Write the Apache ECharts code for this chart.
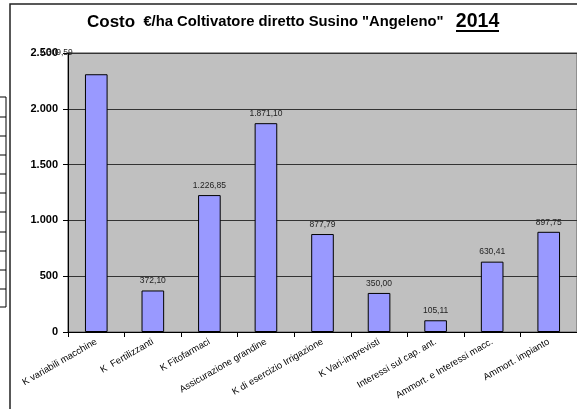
<!DOCTYPE html>
<html>
<head>
<meta charset="utf-8">
<script src="https://cdn.jsdelivr.net/npm/echarts@6/dist/echarts.min.js"></script>
<style>
  html, body { margin: 0; padding: 0; background: #fff; }
  #chart { width: 577px; height: 409px; }
</style>
</head>
<body>
<div id="chart"></div>
<script>
const categories = [
  'K variabili macchine',
  'K  Fertilizzanti',
  'K Fitofarmaci',
  'Assicurazione grandine',
  'K di esercizio Irrigazione',
  'K Vari-imprevisti',
  'Interessi sul cap. ant.',
  'Ammort. e Interessi macc.',
  'Ammort. impianto'
]
const costs = [2309.59, 372.10, 1226.85, 1871.10, 877.79, 350.00, 105.11, 630.41, 897.75]
const yTicks = [0, 500, 1000, 1500, 2000, 2500]

const FONT = 'Arial, "Liberation Sans", sans-serif'

// Italian style number: 1.226,85
function itNumber(v, decimals) {
  const fixed = v.toFixed(decimals)
  let [intPart, decPart] = fixed.split('.')
  intPart = intPart.replace(/\B(?=(\d{3})+(?!\d))/g, '.')
  return decPart ? intPart + ',' + decPart : intPart
}

const chart = echarts.init(document.getElementById('chart'))

const barData = costs.map((v, i) => {
  const item = { value: v }
  // Excel pushed the first label up against the axis top
  if (i === 0) item.label = { offset: [-40, -12] }
  return item
})

const option = {
  backgroundColor: '#fff',
  animation: false,
  title: {
    left: 87,
    top: 10,
    padding: 0,
    text: '{a|Costo}{b|  €/ha Coltivatore diretto Susino "Angeleno"   }{c|2014}',
    textStyle: {
      rich: {
        a: { fontFamily: FONT, fontWeight: 'bold', fontSize: 17, color: '#000', lineHeight: 24 },
        b: { fontFamily: FONT, fontWeight: 'bold', fontSize: 14.8, color: '#000', lineHeight: 24 },
        c: { fontFamily: FONT, fontWeight: 'bold', fontSize: 19.5, color: '#000', lineHeight: 24 }
      }
    }
  },
  graphic: [
    // chart frame (cropped at right and bottom)
    { type: 'rect', shape: { x: 10, y: 4, width: 700, height: 600 }, style: { fill: null, stroke: '#222', lineWidth: 1.5 }, z: 100 },
    // underline of the year
    { type: 'rect', shape: { x: 456, y: 30, width: 43, height: 2 }, style: { fill: '#000' }, z: 100 },
    // fragment of the sheet table at the left edge
    { type: 'rect', shape: { x: -5, y: 97, width: 11, height: 210 }, style: { fill: null, stroke: '#000', lineWidth: 1 }, z: 100 },
    ...[117, 136, 155, 174, 193, 212, 232, 251, 270, 289].map(y => ({
      type: 'line', shape: { x1: 0, y1: y, x2: 6, y2: y }, style: { stroke: '#000', lineWidth: 1 }, z: 100
    }))
  ],
  grid: {
    left: 68,
    top: 53,
    right: -61,
    bottom: 77,
    show: true,
    backgroundColor: '#c0c0c0',
    borderColor: '#808080',
    borderWidth: 1.5
  },
  xAxis: {
    type: 'category',
    data: categories,
    axisLine: { lineStyle: { color: '#000', width: 1 } },
    axisTick: { show: true, length: 5, lineStyle: { color: '#000' } },
    axisLabel: {
      interval: 0,
      rotate: 30,
      margin: 9,
      color: '#000',
      fontFamily: FONT,
      fontSize: 9.5
    },
    splitLine: { show: false }
  },
  yAxis: {
    type: 'value',
    min: 0,
    max: 2500,
    interval: 500,
    axisLine: { show: true, lineStyle: { color: '#000', width: 1 } },
    axisTick: { show: true, length: 5, lineStyle: { color: '#000' } },
    axisLabel: {
      margin: 10,
      color: '#000',
      fontFamily: FONT,
      fontSize: 11,
      fontWeight: 'bold',
      formatter: (v) => yTicks.includes(v) ? itNumber(v, 0) : ''
    },
    splitLine: { show: true, lineStyle: { color: '#333', width: 1 } }
  },
  series: [
    {
      name: 'Costo',
      type: 'bar',
      data: barData,
      barWidth: '40%',
      itemStyle: {
        color: '#9999ff',
        borderColor: '#000',
        borderWidth: 1
      },
      label: {
        show: true,
        position: 'top',
        distance: 5,
        color: '#222',
        fontFamily: FONT,
        fontSize: 8.5,
        formatter: (p) => itNumber(p.value, 2)
      }
    }
  ]
}

chart.setOption(option)
</script>
</body>
</html>
